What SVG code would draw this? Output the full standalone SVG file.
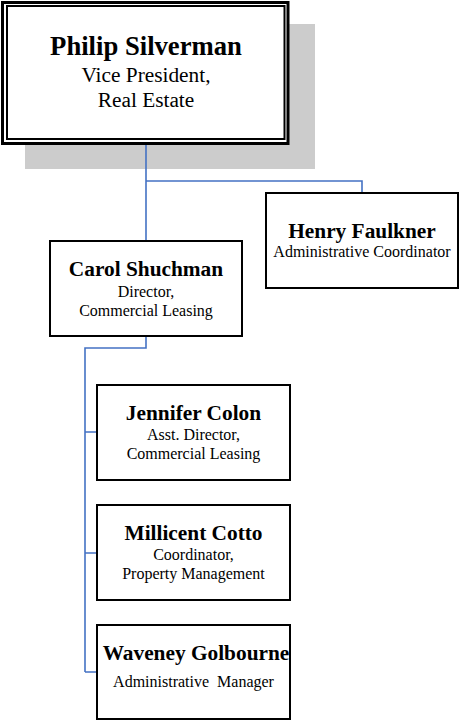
<svg xmlns="http://www.w3.org/2000/svg" width="459" height="721" viewBox="0 0 459 721">
<style>
.box{fill:#fff;stroke:#000;stroke-width:2}
.conn{fill:none;stroke:#4472C4;stroke-width:1.6}
text{font-family:"Liberation Serif","Times New Roman",serif;text-anchor:middle;fill:#000}
.nm{font-weight:bold;font-size:21.33px}
.tt{font-size:16px}
</style>
<rect x="25" y="24" width="290" height="145" fill="#cccccc"/>
<g id="connectors">
<path class="conn" d="M146,145 V241 M146,181 H362 V193"/>
<path class="conn" d="M146,336 V348 H85 V672 M85,432 H97 M85,553 H97 M85,672 H97"/>
</g>
<g id="philip">
<rect x="2.5" y="2.5" width="285.5" height="141" fill="#fff" stroke="#000" stroke-width="3"/>
<rect x="7" y="6" width="277.5" height="133" fill="none" stroke="#000" stroke-width="2"/>
<text x="146" y="55" font-weight="bold" font-size="26.67">Philip Silverman</text>
<text x="146" y="82" font-size="21.33">Vice President,</text>
<text x="146" y="107" font-size="21.33">Real Estate</text>
</g>
<g id="henry">
<rect class="box" x="266" y="193" width="192" height="95"/>
<text class="nm" x="362" y="238">Henry Faulkner</text>
<text class="tt" x="362" y="257">Administrative Coordinator</text>
</g>
<g id="carol">
<rect class="box" x="50" y="241" width="192" height="95"/>
<text class="nm" x="146" y="276">Carol Shuchman</text>
<text class="tt" x="146" y="297">Director,</text>
<text class="tt" x="146" y="316">Commercial Leasing</text>
</g>
<g id="jennifer">
<rect class="box" x="97" y="385" width="193" height="95"/>
<text class="nm" x="193.5" y="420">Jennifer Colon</text>
<text class="tt" x="193.5" y="440">Asst. Director,</text>
<text class="tt" x="193.5" y="459">Commercial Leasing</text>
</g>
<g id="millicent">
<rect class="box" x="97" y="505" width="193" height="95"/>
<text class="nm" x="193.5" y="540">Millicent Cotto</text>
<text class="tt" x="193.5" y="560">Coordinator,</text>
<text class="tt" x="193.5" y="579">Property Management</text>
</g>
<g id="waveney">
<rect class="box" x="97" y="625" width="193" height="94"/>
<text class="nm" x="196" y="660">Waveney Golbourne</text>
<text class="tt" x="193.5" y="687" xml:space="preserve">Administrative  Manager</text>
</g>
</svg>
